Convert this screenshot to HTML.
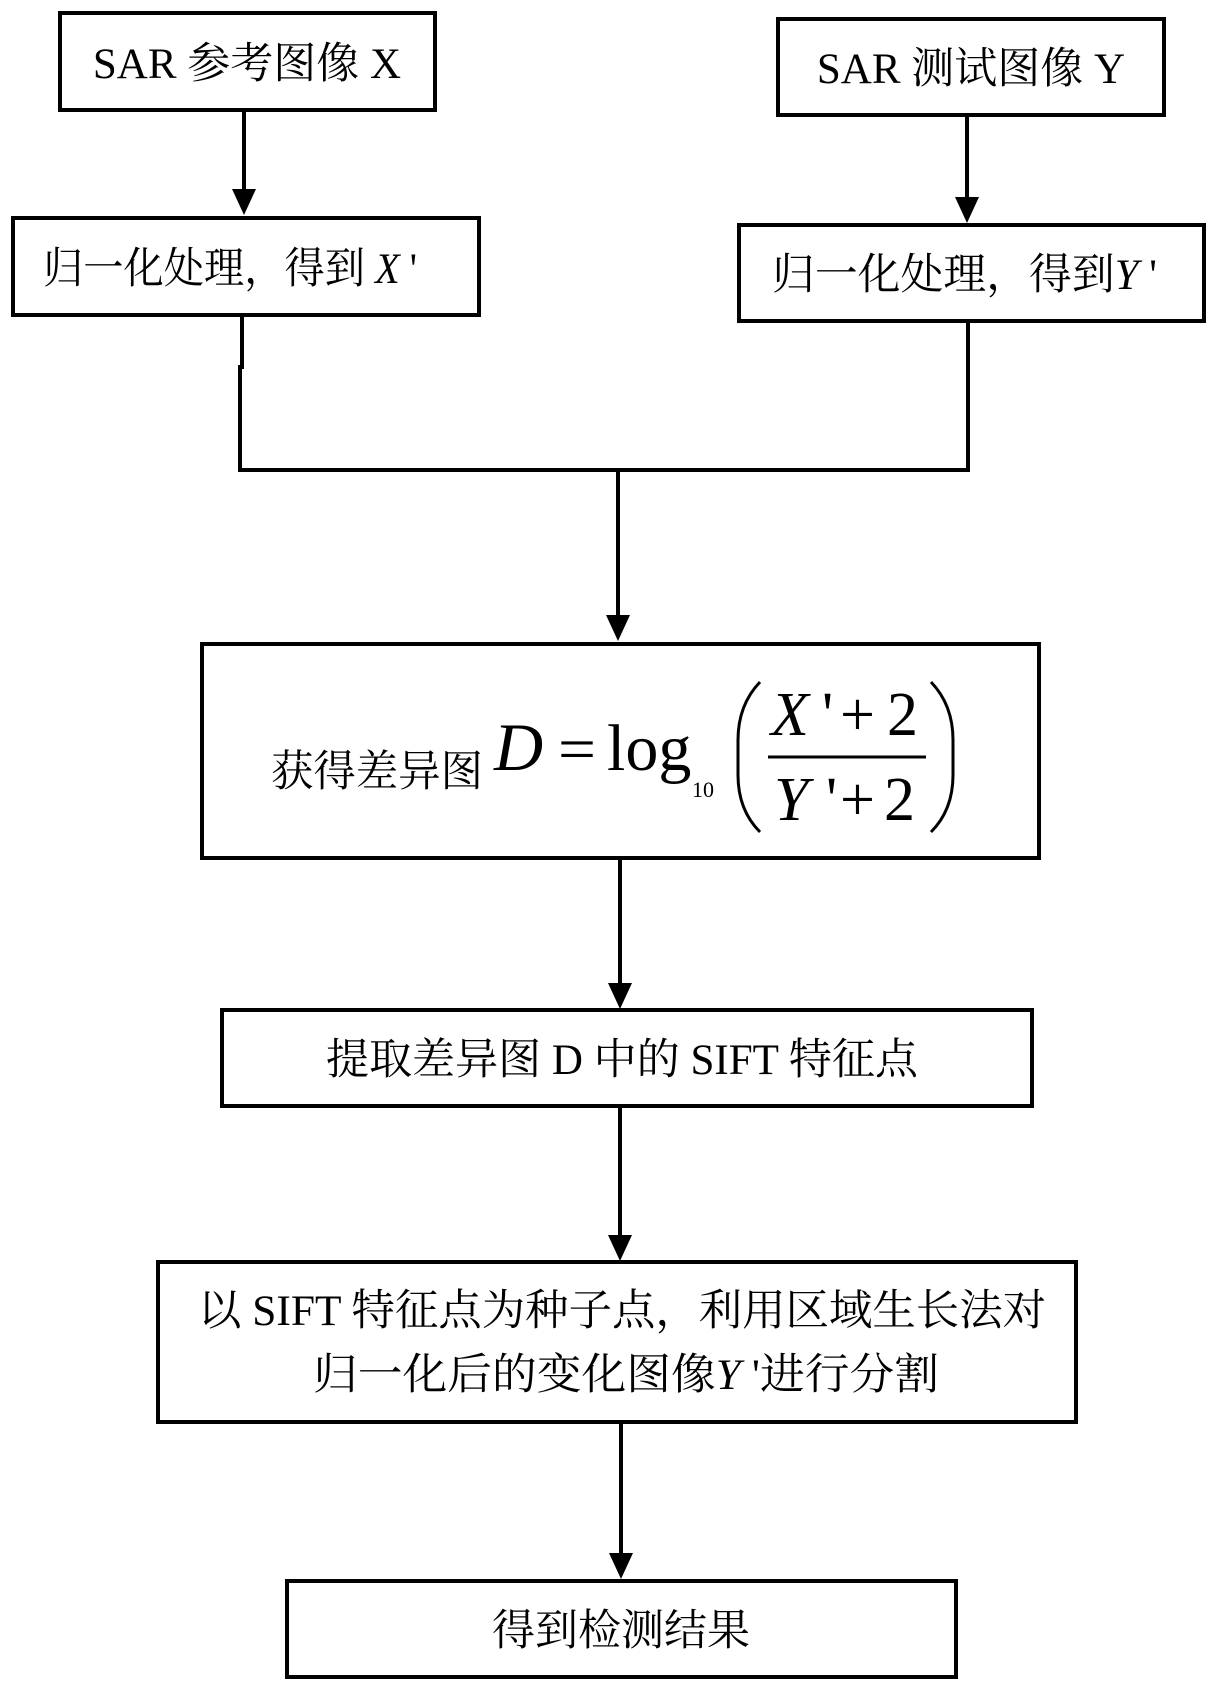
<!DOCTYPE html>
<html>
<head>
<meta charset="utf-8">
<style>
  html,body{margin:0;padding:0;background:#fff;}
  svg{display:block;}
  text{font-family:"Liberation Serif","Noto Serif CJK SC",serif;fill:#000;}
  .t{font-size:43px;}
  .m{font-size:62px;}
</style>
</head>
<body>
<svg width="1219" height="1691" viewBox="0 0 1219 1691" xmlns="http://www.w3.org/2000/svg">
  <rect x="0" y="0" width="1219" height="1691" fill="#fff"/>
  <g fill="none" stroke="#000" stroke-width="4">
    <!-- boxes -->
    <rect x="60" y="13" width="375" height="97"/>
    <rect x="778" y="19" width="386" height="96"/>
    <rect x="13" y="218" width="466" height="97"/>
    <rect x="739" y="225" width="465" height="96"/>
    <rect x="202" y="644" width="837" height="214"/>
    <rect x="222" y="1010" width="810" height="96"/>
    <rect x="158" y="1262" width="918" height="160"/>
    <rect x="287" y="1581" width="669" height="96"/>
    <!-- connectors -->
    <line x1="244" y1="110" x2="244" y2="192"/>
    <line x1="967" y1="115" x2="967" y2="200"/>
    <polyline points="242,315 242,367 240,367 240,470 968,470 968,321"/>
    <line x1="618" y1="470" x2="618" y2="618"/>
    <line x1="620" y1="858" x2="620" y2="986"/>
    <line x1="620" y1="1106" x2="620" y2="1238"/>
    <line x1="621" y1="1422" x2="621" y2="1556"/>
  </g>
  <g fill="#000">
    <polygon points="232,189 256,189 244,215"/>
    <polygon points="955,197 979,197 967,223"/>
    <polygon points="606,615 630,615 618,641"/>
    <polygon points="608,983 632,983 620,1009"/>
    <polygon points="608,1235 632,1235 620,1261"/>
    <polygon points="609,1553 633,1553 621,1579"/>
  </g>

  <!-- texts -->
  <text class="t" x="247" y="78" text-anchor="middle">SAR 参考图像 X</text>
  <text class="t" x="971" y="83" text-anchor="middle">SAR 测试图像 Y</text>
  <text class="t" x="43" y="283" textLength="374" lengthAdjust="spacingAndGlyphs">归一化处理，得到 <tspan font-style="italic">X</tspan> '</text>
  <text class="t" x="772" y="289" textLength="385" lengthAdjust="spacingAndGlyphs">归一化处理，得到<tspan font-style="italic">Y</tspan> '</text>

  <!-- formula -->
  <text class="t" x="271" y="786" textLength="212" lengthAdjust="spacingAndGlyphs">获得差异图</text>
  <text x="494" y="770" font-style="italic" style="font-size:68px;">D</text>
  <text class="m" x="558" y="770" textLength="38" lengthAdjust="spacingAndGlyphs">=</text>
  <text x="607" y="770" style="font-size:66px;">log</text>
  <text x="692" y="797" style="font-size:22px;">10</text>
  <path d="M760,682 Q738,705 738,740 L738,775 Q738,810 760,832" fill="none" stroke="#000" stroke-width="3"/>
  <text class="m" x="771" y="735" font-style="italic">X</text>
  <text class="m" x="822" y="735">'</text>
  <text class="m" x="840" y="735">+</text>
  <text class="m" x="887" y="735">2</text>
  <line x1="768" y1="757" x2="926" y2="757" stroke="#000" stroke-width="3"/>
  <text class="m" x="774" y="820" font-style="italic">Y</text>
  <text class="m" x="826" y="820">'</text>
  <text class="m" x="840" y="820">+</text>
  <text class="m" x="884" y="820">2</text>
  <path d="M931,682 Q953,705 953,740 L953,775 Q953,810 931,832" fill="none" stroke="#000" stroke-width="3"/>

  <text class="t" x="326" y="1074" textLength="592" lengthAdjust="spacingAndGlyphs">提取差异图 D 中的 SIFT 特征点</text>
  <text class="t" x="198" y="1325" textLength="848" lengthAdjust="spacingAndGlyphs">以 SIFT 特征点为种子点，利用区域生长法对</text>
  <text class="t" x="313" y="1389" textLength="626" lengthAdjust="spacingAndGlyphs">归一化后的变化图像<tspan font-style="italic">Y</tspan> '进行分割</text>
  <text class="t" x="621" y="1645" text-anchor="middle">得到检测结果</text>
</svg>
</body>
</html>
